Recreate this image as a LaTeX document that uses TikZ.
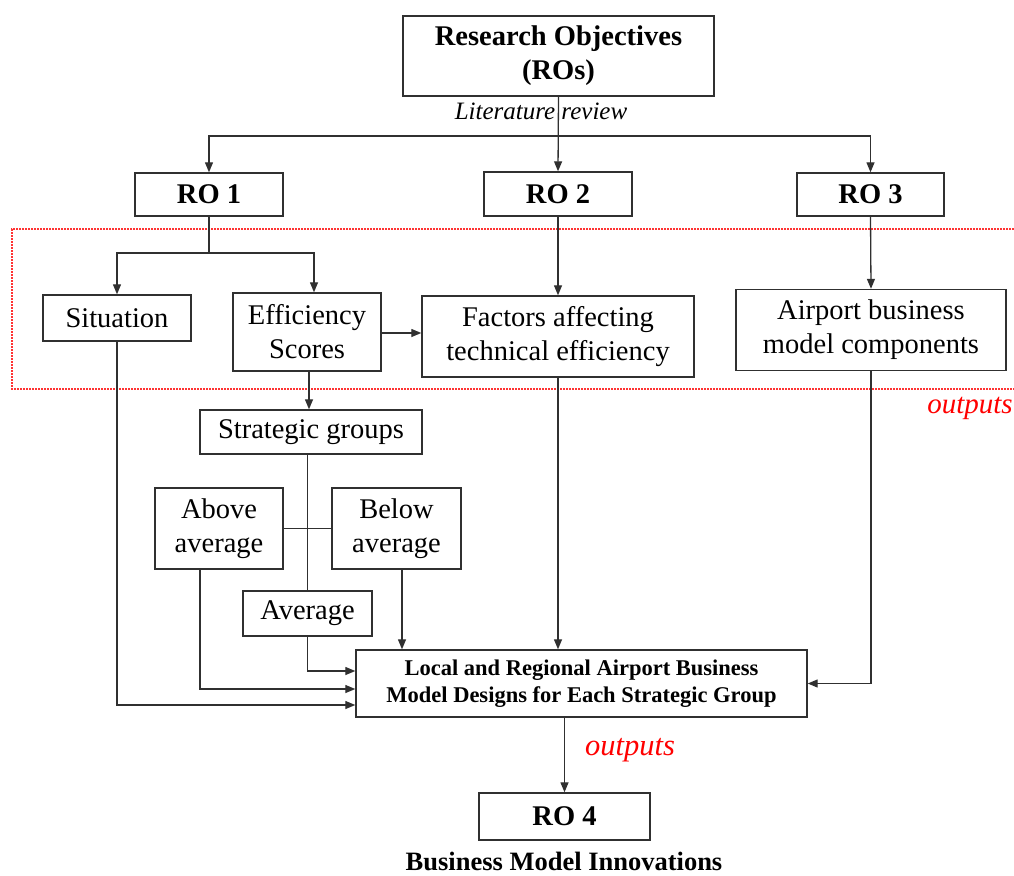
\documentclass[tikz,border=0pt]{standalone}
\usepackage{fontspec}
\setmainfont{Liberation Serif}
\usetikzlibrary{arrows.meta,calc}
\definecolor{inkgray}{HTML}{303030}
\begin{document}
\begin{tikzpicture}[x=1pt,y=-1pt,
  bx/.style={draw=inkgray,line width=1.4pt,inner sep=0pt,align=center,
    font=\fontsize{28.5}{34}\selectfont},
  bxb/.style={bx,font=\fontsize{28.5}{34}\selectfont\bfseries},
  arr/.style={draw=inkgray,line width=1.3pt,-{Triangle[length=10pt,width=8pt]}},
  ln/.style={draw=inkgray,line width=1.3pt},
  redlab/.style={text=red,font=\fontsize{29}{34}\selectfont\itshape,inner sep=0pt}]
\useasboundingbox (0,0) rectangle (1014,875);

% output zone (open on the right)
\draw[red!80,line width=1.1pt,dash pattern=on 2pt off 1pt] (1014,229) -- (12,229) -- (12,389) -- (1014,389);

% boxes
\node[bxb,minimum width=311pt,minimum height=80pt] (ros) at (558.5,56) {Research Objectives\\(ROs)};
\node[bxb,minimum width=148pt,minimum height=43pt] (ro1) at (209,194.5) {RO 1};
\node[bxb,minimum width=148pt,minimum height=44pt] (ro2) at (558,194) {RO 2};
\node[bxb,minimum width=147pt,minimum height=43pt] (ro3) at (870.5,194.5) {RO 3};

\node[bx,minimum width=148pt,minimum height=46pt] (sit) at (117,318) {Situation};
\node[bx,minimum width=148pt,minimum height=78pt] (eff) at (307,332) {Efficiency\\Scores};
\node[bx,minimum width=272pt,minimum height=81pt] (fac) at (558,336.5) {Factors affecting\\technical efficiency};
\node[bx,minimum width=270pt,minimum height=81pt] (air) at (871,330) {Airport business\\model components};

\node[bx,minimum width=222pt,minimum height=44pt] (stg) at (311,432) {Strategic groups};
\node[bx,minimum width=128pt,minimum height=81pt] (abv) at (219,528.5) {Above\\average};
\node[bx,minimum width=129pt,minimum height=81pt] (blw) at (396.5,528.5) {Below\\average};
\node[bx,minimum width=129pt,minimum height=45pt] (avg) at (307.5,613.5) {Average};

\node[bx,minimum width=451pt,minimum height=67pt,
  font=\fontsize{22.5}{27.5}\selectfont\bfseries] (loc) at (581.5,683.5)
  {Local and Regional Airport Business\\Model Designs for Each Strategic Group};
\node[bxb,minimum width=171pt,minimum height=47pt] (ro4) at (564.5,816.5) {RO 4};

% labels
\node[inner sep=0pt,font=\fontsize{25}{30}\selectfont\itshape] (lit) at (541,111) {Literature review};
\node[redlab] (out1) at (970,408) {outputs};
\node[redlab,font=\fontsize{30.5}{36}\selectfont\itshape] (out2) at (630,750) {outputs};
\node[inner sep=0pt,font=\fontsize{26.5}{32}\selectfont\bfseries] (bmi) at (564,861) {Business Model Innovations};

% top level split
\coordinate (hub) at (ros.south |- 0,136);
\draw[arr] (ros.south) -- (ro2.north);
\draw[arr] (hub) -| (ro1.north);
\draw[arr] (hub) -| (ro3.north);

% RO 1 branch
\coordinate (split1) at (ro1.south |- 0,253);
\coordinate (effin) at ($(eff.north)+(7,0)$);
\draw[ln] (ro1.south) -- (split1);
\draw[arr] (split1) -| (sit.north);
\draw[arr] (split1) -| (effin);

\draw[arr] (ro2.south) -- (fac.north);
\draw[arr] (ro3.south) -- (air.north);
\draw[arr] (eff.east |- 0,333) -- (fac.west |- 0,333);

% strategic groups
\coordinate (effout) at ($(eff.south)+(2,0)$);
\draw[arr] (effout) -- (effout |- stg.north);
\draw[ln] (avg.north |- stg.south) -- (avg.north);
\draw[ln] (abv.east) -- (blw.west);

% inputs to the design box
\coordinate (abvout) at ($(abv.south)+(-19,0)$);
\coordinate (blwout) at ($(blw.south)+(5.5,0)$);
\coordinate (locA) at ($(loc.west)+(0,5.5)$);
\coordinate (locB) at ($(loc.west)+(0,-12.5)$);
\coordinate (locC) at ($(loc.west)+(0,21.5)$);
\draw[arr] (abvout) |- (locA);
\draw[arr] (avg.south) |- (locB);
\draw[arr] (sit.south) |- (locC);
\draw[arr] (blwout) -- (blwout |- loc.north);
\draw[arr] (fac.south) -- (fac.south |- loc.north);
\draw[arr] (air.south) |- (loc.east);
\draw[arr] (loc.south -| ro4.north) -- (ro4.north);
\end{tikzpicture}
\end{document}
